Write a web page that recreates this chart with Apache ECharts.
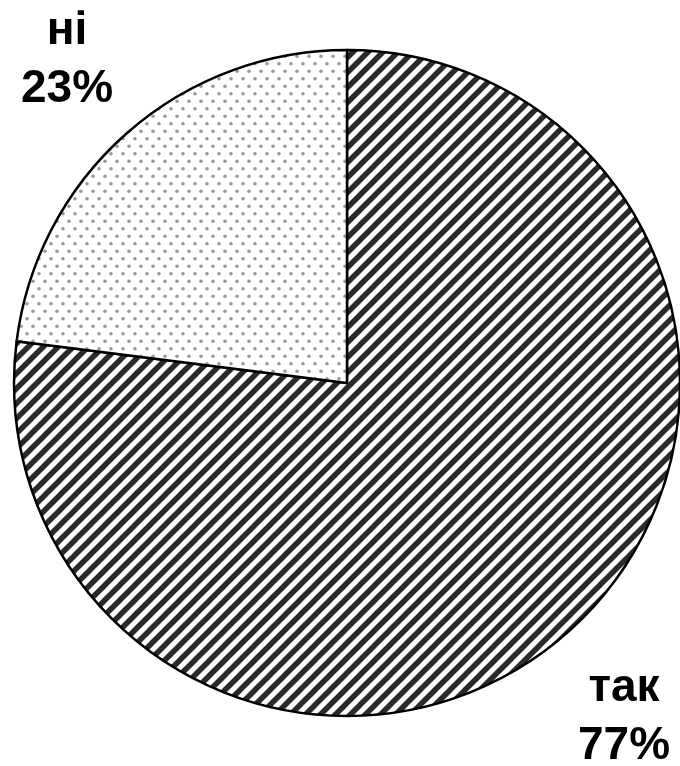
<!DOCTYPE html>
<html><head><meta charset="utf-8">
<script src="https://cdn.jsdelivr.net/npm/echarts@6/dist/echarts.min.js"></script>
<style>html,body{margin:0;padding:0;background:#fff;}#c{width:680px;height:766px;}</style>
</head><body><div id="c"></div>
<script>
var categories = ['так', 'ні'];
var values = [77, 23];

function stripeTile() {
  var s = 15, c = document.createElement('canvas');
  c.width = s; c.height = s;
  var g = c.getContext('2d');
  g.fillStyle = '#fff'; g.fillRect(0, 0, s, s);
  g.strokeStyle = '#2a2a2a'; g.lineWidth = 5.5;
  for (var k = -1; k <= 1; k++) {
    g.beginPath(); g.moveTo(k * s - s, 2 * s); g.lineTo(k * s + 2 * s, -s); g.stroke();
  }
  return c;
}
function dotTile() {
  var w = 12, h = 15, c = document.createElement('canvas');
  c.width = w; c.height = h;
  var g = c.getContext('2d');
  g.fillStyle = '#fff'; g.fillRect(0, 0, w, h);
  g.fillStyle = '#999';
  g.beginPath(); g.arc(3, 3.75, 1.8, 0, Math.PI * 2); g.fill();
  g.beginPath(); g.arc(9, 11.25, 1.8, 0, Math.PI * 2); g.fill();
  return c;
}
var fills = [{ image: stripeTile(), repeat: 'repeat' }, { image: dotTile(), repeat: 'repeat' }];
var labelPos = [{ x: 624, y: 717 }, { x: 67, y: 60 }];

var chart = echarts.init(document.getElementById('c'));
chart.setOption({
  animation: false,
  series: [{
    type: 'pie',
    center: [347, 383],
    radius: 333,
    startAngle: 90,
    clockwise: true,
    data: categories.map(function (n, i) {
      return {
        name: n, value: values[i],
        itemStyle: { color: fills[i], borderColor: '#000', borderWidth: 2.5 }
      };
    }),
    label: {
      show: true,
      formatter: '{b}\n{c}%',
      fontFamily: 'Liberation Sans, Arial, sans-serif',
      fontWeight: 'bold',
      fontSize: 46,
      lineHeight: 58,
      color: '#000',
      align: 'center',
      overflow: 'none'
    },
    labelLine: { show: false },
    labelLayout: function (p) {
      var pos = labelPos[p.dataIndex];
      return { x: pos.x, y: pos.y, align: 'center', verticalAlign: 'middle' };
    },
    emphasis: { disabled: true }
  }]
});
</script></body></html>
